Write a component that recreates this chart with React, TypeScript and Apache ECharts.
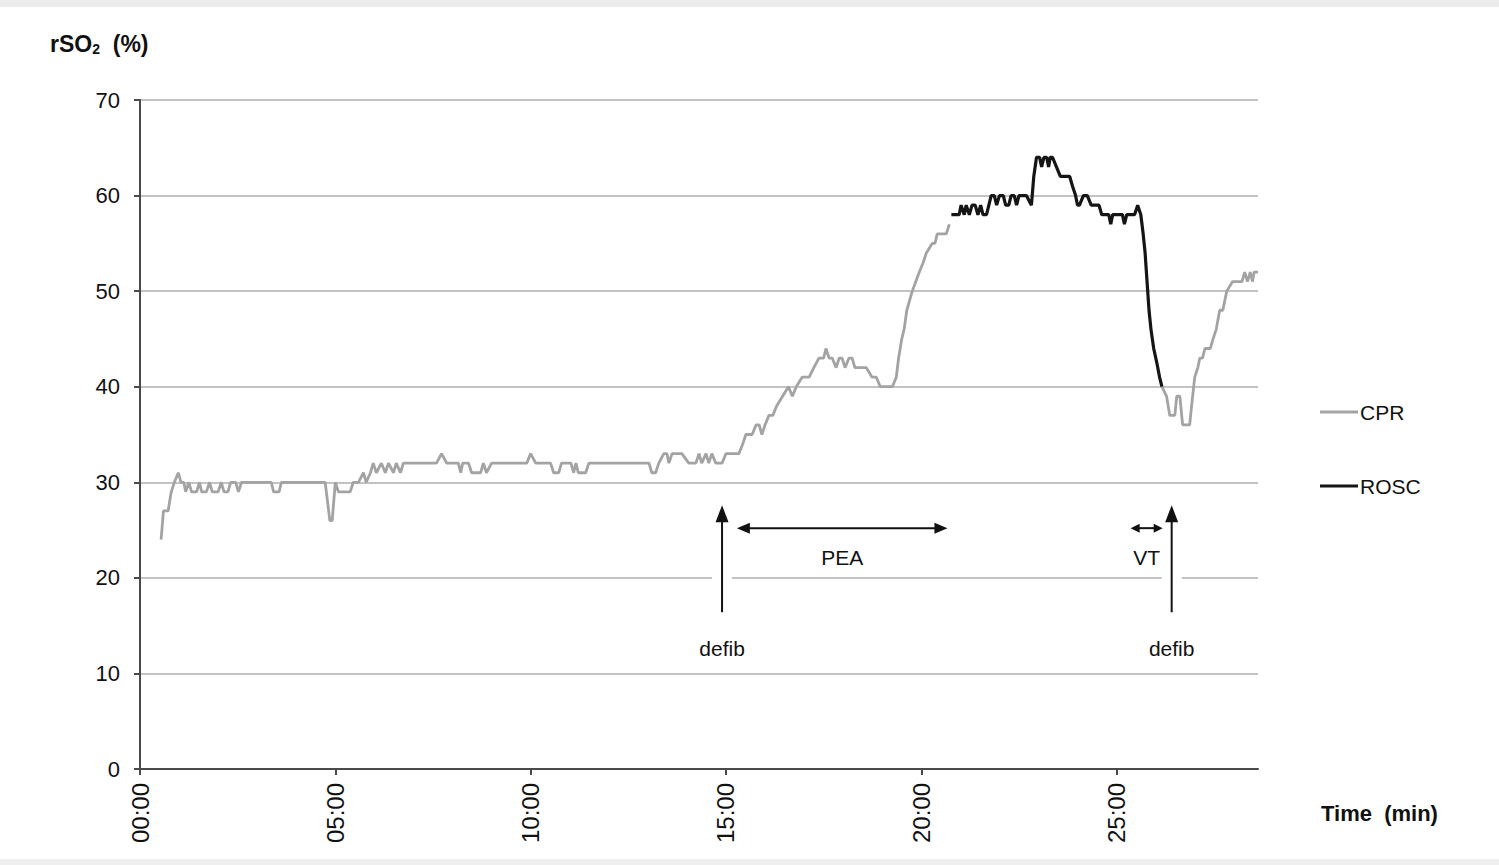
import { useEffect, useRef } from "react";
import * as echarts from "echarts";

// Cerebral oximetry (rSO2, %) against elapsed time in minutes
const cprBeforeRosc: [number, number][] = [
  [0.54, 24], [0.6, 27], [0.72, 27], [0.8, 29], [0.88, 30], [0.98, 31], [1.05, 30], [1.12, 30],
  [1.17, 29], [1.25, 30], [1.32, 29], [1.45, 29], [1.52, 30], [1.58, 29], [1.7, 29], [1.78, 30],
  [1.85, 29], [2.0, 29], [2.08, 30], [2.15, 29], [2.25, 29], [2.32, 30], [2.45, 30], [2.52, 29],
  [2.6, 30], [2.75, 30], [3.36, 30], [3.42, 29], [3.56, 29], [3.62, 30], [4.74, 30], [4.8, 28],
  [4.86, 26], [4.92, 26], [5.0, 30], [5.08, 29], [5.38, 29], [5.46, 30], [5.59, 30], [5.72, 31],
  [5.79, 30], [5.9, 31], [5.97, 32], [6.05, 31], [6.18, 32], [6.28, 31], [6.36, 32], [6.49, 31],
  [6.56, 32], [6.67, 31], [6.74, 32], [7.59, 32], [7.72, 33], [7.85, 32], [8.15, 32], [8.21, 31],
  [8.26, 32], [8.41, 32], [8.49, 31], [8.72, 31], [8.79, 32], [8.87, 31], [9.0, 32], [9.9, 32],
  [10.0, 33], [10.13, 32], [10.51, 32], [10.59, 31], [10.72, 31], [10.79, 32], [11.03, 32],
  [11.1, 31], [11.16, 32], [11.22, 31], [11.41, 31], [11.49, 32], [13.03, 32], [13.1, 31],
  [13.2, 31], [13.28, 32], [13.41, 33], [13.49, 33], [13.54, 32], [13.62, 33], [13.87, 33],
  [14.05, 32], [14.23, 32], [14.31, 33], [14.38, 32], [14.49, 33], [14.56, 32], [14.64, 33],
  [14.74, 32], [14.9, 32], [15.0, 33], [15.33, 33], [15.43, 34], [15.51, 35], [15.67, 35],
  [15.77, 36], [15.85, 36], [15.92, 35], [16.0, 36], [16.1, 37], [16.2, 37], [16.3, 38],
  [16.45, 39], [16.6, 40], [16.7, 39], [16.8, 40], [16.95, 41], [17.13, 41], [17.25, 42],
  [17.38, 43], [17.5, 43], [17.56, 44], [17.64, 43], [17.72, 43], [17.82, 42], [17.9, 43],
  [17.97, 43], [18.05, 42], [18.15, 43], [18.23, 43], [18.3, 42], [18.59, 42], [18.74, 41],
  [18.85, 41], [18.95, 40], [19.26, 40], [19.36, 41], [19.42, 43], [19.5, 45], [19.56, 46],
  [19.63, 48], [19.7, 49], [19.77, 50], [19.86, 51], [19.95, 52], [20.05, 53], [20.13, 54],
  [20.28, 55], [20.35, 55], [20.41, 56], [20.64, 56], [20.72, 57],
];

const rosc: [number, number][] = [
  [20.77, 58], [20.97, 58], [21.02, 59], [21.1, 58], [21.15, 59], [21.23, 58], [21.3, 59],
  [21.38, 59], [21.45, 58], [21.52, 59], [21.58, 58], [21.67, 58], [21.73, 59], [21.79, 60],
  [21.87, 60], [21.93, 59], [22.0, 60], [22.1, 60], [22.16, 59], [22.24, 59], [22.3, 60],
  [22.38, 60], [22.44, 59], [22.5, 60], [22.69, 60], [22.82, 59], [22.88, 62], [22.95, 64],
  [23.03, 64], [23.08, 63], [23.14, 64], [23.21, 64], [23.26, 63], [23.3, 64], [23.36, 64],
  [23.46, 63], [23.56, 62], [23.8, 62], [23.87, 61], [23.95, 60], [24.0, 59], [24.05, 59],
  [24.15, 60], [24.25, 60], [24.35, 59], [24.55, 59], [24.62, 58], [24.8, 58], [24.85, 57],
  [24.9, 58], [25.15, 58], [25.2, 57], [25.26, 58], [25.46, 58], [25.54, 59], [25.62, 58],
  [25.68, 56], [25.73, 54], [25.78, 51], [25.83, 48], [25.88, 46], [25.95, 44], [26.03, 42.5],
  [26.1, 41], [26.16, 40],
];

const cprAfterRosc: [number, number][] = [
  [26.16, 40], [26.28, 39], [26.36, 37], [26.49, 37], [26.54, 39], [26.62, 39], [26.69, 36],
  [26.87, 36], [26.92, 38], [27.0, 41], [27.08, 42], [27.13, 43], [27.2, 43], [27.26, 44],
  [27.4, 44], [27.47, 45], [27.55, 46], [27.64, 48], [27.72, 48], [27.82, 50], [27.97, 51],
  [28.21, 51], [28.28, 52], [28.35, 51], [28.42, 52], [28.48, 51], [28.52, 52], [28.62, 52],
];

const timeTicks = [0, 5, 10, 15, 20, 25];
const timeEnd = 28.62;

// Event markers, in minutes and rSO2 units
const defibTimes = [14.9, 26.41];
const peaSpan: [number, number] = [15.28, 20.67];
const vtSpan: [number, number] = [25.36, 26.18];
const arrowTopLevel = 27.6;
const arrowBottomLevel = 16.4;
const spanLevel = 25.2;
const spanLabelLevel = 22.1;
const defibLabelLevel = 12.6;

const FONT = "'Liberation Sans', Arial, Helvetica, sans-serif";
const INK = "#111111";
const CPR_COLOR = "#a3a3a3";
const ROSC_COLOR = "#151515";

const pad2 = (n: number) => (n < 10 ? "0" + n : String(n));

export default function App() {
  const ref = useRef<HTMLDivElement>(null);

  useEffect(() => {
    if (!ref.current) return;
    const chart = echarts.init(ref.current, undefined, { renderer: "svg" });

    chart.setOption({
      animation: false,
      backgroundColor: "#ffffff",
      grid: { left: 140, right: 241, top: 100, bottom: 96, containLabel: false },
      legend: {
        orient: "vertical",
        left: 1315,
        top: 395,
        data: ["CPR", "ROSC"],
        icon: "rect",
        itemWidth: 38,
        itemHeight: 3,
        itemGap: 50,
        selectedMode: false,
        textStyle: { fontFamily: FONT, fontSize: 21, color: INK, lineHeight: 24, padding: [0, 0, 0, -3] },
      },
      xAxis: {
        type: "value",
        min: 0,
        max: timeEnd,
        interval: 5,
        axisLine: { show: true, lineStyle: { color: "#4a4a4a", width: 2 } },
        axisTick: { show: true, customValues: timeTicks, length: 6, lineStyle: { color: "#4a4a4a", width: 2 } },
        axisLabel: {
          customValues: timeTicks,
          rotate: 90,
          margin: 14,
          fontFamily: FONT,
          fontSize: 24,
          color: INK,
          formatter: (v: number) => pad2(Math.round(v)) + ":00",
        },
        splitLine: { show: false },
      },
      yAxis: {
        type: "value",
        min: 0,
        max: 70,
        interval: 10,
        axisLine: { show: true, lineStyle: { color: "#4a4a4a", width: 2 } },
        axisTick: { show: true, length: 6, lineStyle: { color: "#4a4a4a", width: 2 } },
        axisLabel: { margin: 20, fontFamily: FONT, fontSize: 22, color: INK },
        splitLine: { show: true, lineStyle: { color: "#c3c3c3", width: 2 } },
      },
      series: [
        {
          name: "CPR",
          type: "line",
          data: cprBeforeRosc,
          showSymbol: false,
          color: CPR_COLOR,
          lineStyle: { color: CPR_COLOR, width: 2.8 },
          z: 3,
        },
        {
          name: "ROSC",
          type: "line",
          data: rosc,
          showSymbol: false,
          color: ROSC_COLOR,
          lineStyle: { color: ROSC_COLOR, width: 3.2 },
          z: 4,
        },
        {
          name: "CPR",
          type: "line",
          data: cprAfterRosc,
          showSymbol: false,
          color: CPR_COLOR,
          lineStyle: { color: CPR_COLOR, width: 2.8 },
          z: 3,
        },
      ],
    });

    const toPx = (t: number, v: number) =>
      chart.convertToPixel({ xAxisIndex: 0, yAxisIndex: 0 }, [t, v]) as number[];

    const label = (text: string, x: number, y: number, align = "center") => ({
      type: "text",
      x,
      y,
      z: 20,
      style: {
        text,
        fill: INK,
        font: `21px ${FONT}`,
        align,
        verticalAlign: "middle",
        textAlign: align,
        textVerticalAlign: "middle",
      },
    });

    const elements: any[] = [];

    // Faint scan edges at the top and bottom of the page
    elements.push({ type: "rect", z: 1, shape: { x: 0, y: 0, width: 1499, height: 7 }, style: { fill: "#ececec" } });
    elements.push({ type: "rect", z: 1, shape: { x: 0, y: 859, width: 1499, height: 6 }, style: { fill: "#efefef" } });

    // Defibrillation arrows with a white clearing behind them
    defibTimes.forEach((t) => {
      const [x, top] = toPx(t, arrowTopLevel);
      const [, bottom] = toPx(t, arrowBottomLevel);
      elements.push({
        type: "rect",
        z: 15,
        shape: { x: x - 10, y: top + 18, width: 20, height: bottom - top - 18 },
        style: { fill: "#ffffff" },
      });
      elements.push({
        type: "line",
        z: 16,
        shape: { x1: x, y1: top + 10, x2: x, y2: bottom },
        style: { stroke: INK, lineWidth: 2 },
      });
      elements.push({
        type: "polygon",
        z: 16,
        shape: { points: [[x, top], [x - 6.5, top + 17], [x + 6.5, top + 17]] },
        style: { fill: INK },
      });
      const [lx, ly] = toPx(t, defibLabelLevel);
      elements.push(label("defib", lx, ly));
    });

    // Rhythm spans (double-headed arrows)
    const span = (range: [number, number], text: string, head: number, half: number) => {
      const [x1, y] = toPx(range[0], spanLevel);
      const [x2] = toPx(range[1], spanLevel);
      elements.push({
        type: "line",
        z: 16,
        shape: { x1: x1 + head - 2, y1: y, x2: x2 - head + 2, y2: y },
        style: { stroke: INK, lineWidth: 2 },
      });
      elements.push({
        type: "polygon",
        z: 16,
        shape: { points: [[x1, y], [x1 + head, y - half], [x1 + head, y + half]] },
        style: { fill: INK },
      });
      elements.push({
        type: "polygon",
        z: 16,
        shape: { points: [[x2, y], [x2 - head, y - half], [x2 - head, y + half]] },
        style: { fill: INK },
      });
      const [cx, cy] = toPx((range[0] + range[1]) / 2, spanLabelLevel);
      elements.push(label(text, cx, cy));
    };
    span(peaSpan, "PEA", 13, 5.5);
    span(vtSpan, "VT", 9, 4.5);

    // Axis titles
    elements.push({
      type: "text",
      x: 50,
      y: 44,
      z: 20,
      style: {
        text: "{a|rSO}{s|2}{a|  (%)}",
        verticalAlign: "middle",
        textVerticalAlign: "middle",
        rich: {
          a: { fontFamily: FONT, fontSize: 23, fontWeight: "bold", fill: INK, color: INK },
          s: { fontFamily: FONT, fontSize: 14, fontWeight: "bold", fill: INK, color: INK, padding: [10, 0, 0, 0] },
        },
      },
    });
    elements.push({
      type: "text",
      x: 1321,
      y: 813,
      z: 20,
      style: {
        text: "Time  (min)",
        fill: INK,
        font: `bold 22px ${FONT}`,
        verticalAlign: "middle",
        textVerticalAlign: "middle",
      },
    });

    chart.setOption({ graphic: { elements } });

    return () => chart.dispose();
  }, []);

  return (
    <div
      ref={ref}
      style={{ position: "absolute", left: 0, top: 0, width: 1499, height: 865, background: "#fff" }}
    />
  );
}
